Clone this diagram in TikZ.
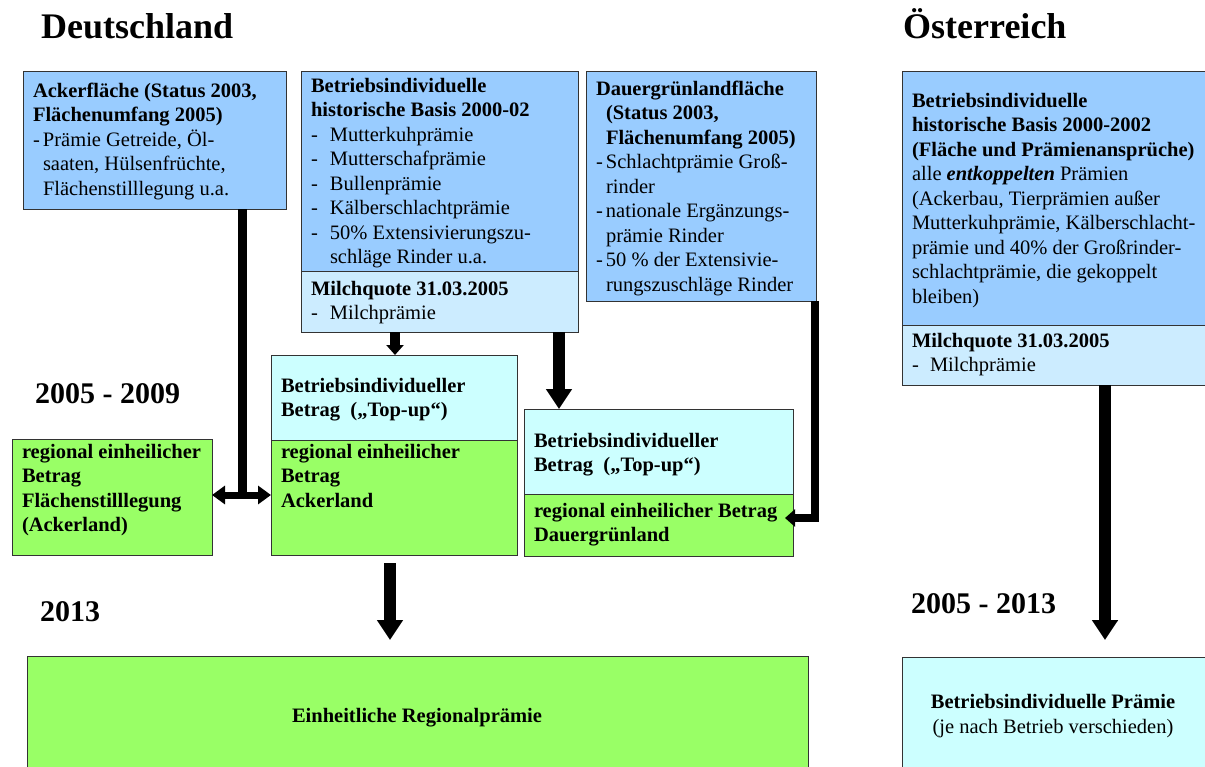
\documentclass[tikz,border=0pt]{standalone}
\usepackage{fontspec}
\setmainfont{Liberation Serif}
\usetikzlibrary{arrows.meta}
\definecolor{lblue}{HTML}{99CCFF}
\definecolor{lcyan}{HTML}{CCECFF}
\definecolor{tcyan}{HTML}{CCFFFF}
\definecolor{lgreen}{HTML}{99FF66}
\newcommand{\dl}[2]{\makebox[#1][l]{-}#2}
\newcommand{\tbox}[1]{\parbox[t]{400pt}{#1}}
\begin{document}
\begin{tikzpicture}[x=1pt,y=-1pt,
  every node/.style={font=\fontsize{20.5pt}{24.5pt}\selectfont},
  box/.style={draw=black!80,line width=0.8pt,anchor=north west,inner sep=0pt,outer sep=0pt,rectangle},
  txt/.style={anchor=base west,inner sep=0pt,outer sep=0pt},
  title/.style={anchor=base west,inner sep=0pt,font=\fontsize{36pt}{40pt}\selectfont\bfseries},
  year/.style={anchor=base west,inner sep=0pt,font=\fontsize{30pt}{34pt}\selectfont\bfseries},
  fat/.style={line width=12pt,-{Triangle[width=25pt,length=20pt]}},
  mid/.style={line width=10pt,-{Triangle[width=17pt,length=10pt]}},
  side/.style={line width=8pt,line join=miter,-{Triangle[width=17pt,length=10pt]}},
  dbl/.style={line width=7pt,{Triangle[width=18pt,length=13pt]}-{Triangle[width=18pt,length=13pt]}}
]
\useasboundingbox (0,0) rectangle (1205,766);

% titles
\node[title] (tDE) at (41,38) {Deutschland};
\node[title] (tAT) at (903,38) {Österreich};
\node[year] (y1) at (35,403) {2005 - 2009};
\node[year] (y2) at (40,621) {2013};
\node[year] (y3) at (911,613) {2005 - 2013};

% boxes
\node[box,fill=lblue,minimum width=263pt,minimum height=138pt] (A) at (23,71) {};
\node[box,fill=lblue,minimum width=277pt,minimum height=200pt] (B1) at (301,71) {};
\node[box,fill=lcyan,minimum width=277pt,minimum height=61pt] (B2) at (301,271) {};
\node[box,fill=lblue,minimum width=230pt,minimum height=230pt] (C) at (586,71) {};
\node[box,fill=lblue,minimum width=305pt,minimum height=254pt] (D1) at (902,71) {};
\node[box,fill=lcyan,minimum width=305pt,minimum height=60pt] (D2) at (902,325) {};
\node[box,fill=lgreen,minimum width=200pt,minimum height=116pt] (E) at (12,439) {};
\node[box,fill=tcyan,minimum width=246pt,minimum height=85pt] (F1) at (271,355) {};
\node[box,fill=lgreen,minimum width=246pt,minimum height=115pt] (F2) at (271,440) {};
\node[box,fill=tcyan,minimum width=269pt,minimum height=85pt] (G1) at (524,409) {};
\node[box,fill=lgreen,minimum width=269pt,minimum height=62pt] (G2) at (524,494) {};
\node[box,fill=lgreen,minimum width=781pt,minimum height=112pt] (H) at (27,656) {};
\node[box,fill=tcyan,minimum width=305pt,minimum height=111pt] (I) at (902,657) {};

% texts
\node[txt] (tA) at (33,97) {\tbox{\textbf{Ackerfläche (Status 2003,}\\
\textbf{Flächenumfang 2005)}\\
\dl{10pt}{Prämie Getreide, Öl-}\\
\hspace*{10pt}saaten, Hülsenfrüchte,\\
\hspace*{10pt}Flächenstilllegung u.a.}};
\node[txt] (tB1) at (311,92) {\tbox{\textbf{Betriebsindividuelle}\\
\textbf{historische Basis 2000-02}\\
\dl{19pt}{Mutterkuhprämie}\\
\dl{19pt}{Mutterschafprämie}\\
\dl{19pt}{Bullenprämie}\\
\dl{19pt}{Kälberschlachtprämie}\\
\dl{19pt}{50\% Extensivierungszu-}\\
\hspace*{19pt}schläge Rinder u.a.}};
\node[txt] (tB2) at (311,295) {\tbox{\textbf{Milchquote 31.03.2005}\\
\dl{19pt}{Milchprämie}}};
\node[txt] (tC) at (596,95) {\tbox{\textbf{Dauergrünlandfläche}\\
\hspace*{10pt}\textbf{(Status 2003,}\\
\hspace*{10pt}\textbf{Flächenumfang 2005)}\\
\dl{10pt}{Schlachtprämie Groß-}\\
\hspace*{10pt}rinder\\
\dl{10pt}{nationale Ergänzungs-}\\
\hspace*{10pt}prämie Rinder\\
\dl{10pt}{50 \% der Extensivie-}\\
\hspace*{10pt}rungszuschläge Rinder}};
\node[txt] (tD1) at (912,107) {\tbox{\textbf{Betriebsindividuelle}\\
\textbf{historische Basis 2000-2002}\\
\textbf{(Fläche und Prämienansprüche)}\\
alle \textbf{\textit{entkoppelten}} Prämien\\
(Ackerbau, Tierprämien außer\\
Mutterkuhprämie, Kälberschlacht-\\
prämie und 40\% der Großrinder-\\
schlachtprämie, die gekoppelt\\
bleiben)}};
\node[txt] (tD2) at (912,347) {\tbox{\textbf{Milchquote 31.03.2005}\\
\dl{18pt}{Milchprämie}}};
\node[txt] (tE) at (22,458) {\tbox{\textbf{regional einheilicher}\\
\textbf{Betrag}\\
\textbf{Flächenstilllegung}\\
\textbf{(Ackerland)}}};
\node[txt] (tF1) at (281,392) {\tbox{\textbf{Betriebsindividueller}\\
\textbf{Betrag\ \ („Top-up“)}}};
\node[txt] (tF2) at (281,458) {\tbox{\textbf{regional einheilicher}\\
\textbf{Betrag}\\
\textbf{Ackerland}}};
\node[txt] (tG1) at (534,447) {\tbox{\textbf{Betriebsindividueller}\\
\textbf{Betrag\ \ („Top-up“)}}};
\node[txt] (tG2) at (534,517) {\tbox{\textbf{regional einheilicher Betrag}\\
\textbf{Dauergrünland}}};
\node[anchor=base,inner sep=0pt] (tH) at (417,722) {\textbf{Einheitliche Regionalprämie}};
\node[anchor=base,inner sep=0pt] (tI) at (1053,708) {\textbf{Betriebsindividuelle Prämie}};
\node[anchor=base,inner sep=0pt] (tI2) at (1053,733) {(je nach Betrieb verschieden)};

% connectors
\coordinate (jn) at (242,495);
\draw[line width=9pt] (A.south -| jn) -- ([yshift=-4pt]jn);
\draw[dbl] (E.east |- jn) -- (F2.west |- jn);

\coordinate (b2a) at ([xshift=94pt]B2.south west);
\draw[mid] (b2a) -- (b2a |- F1.north);

\coordinate (b2b) at ([xshift=258pt]B2.south west);
\draw[fat] (b2b) -- (b2b |- G1.north);

\coordinate (cs) at ([xshift=-1pt]C.south east);
\coordinate (ge) at ([yshift=7pt]G2.east);
\draw[side,shorten >=-8pt] (cs) |- (ge);

\coordinate (f2s) at ([xshift=119pt]F2.south west);
\draw[fat,shorten <=8pt,shorten >=16pt] (f2s) -- (f2s |- H.north);

\coordinate (d2s) at ([xshift=203pt]D2.south west);
\draw[fat,shorten >=17pt] (d2s) -- (d2s |- I.north);
\end{tikzpicture}
\end{document}
